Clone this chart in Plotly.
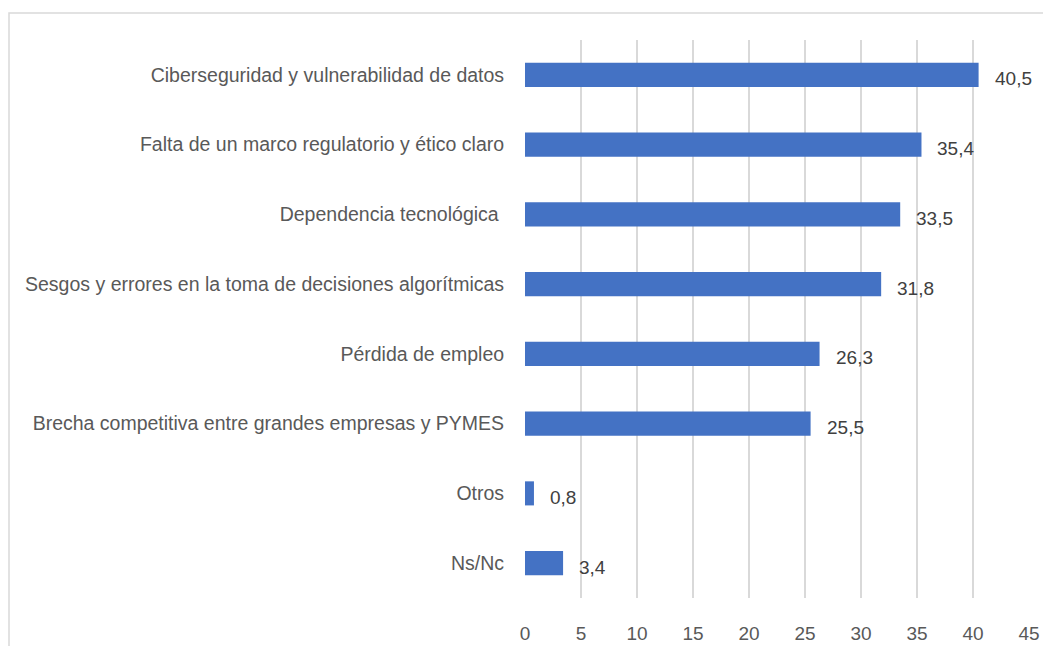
import plotly.graph_objects as go

categories = [
    "Ciberseguridad y vulnerabilidad de datos",
    "Falta de un marco regulatorio y ético claro",
    "Dependencia tecnológica ",
    "Sesgos y errores en la toma de decisiones algorítmicas",
    "Pérdida de empleo",
    "Brecha competitiva entre grandes empresas y PYMES",
    "Otros",
    "Ns/Nc",
]
values = [40.5, 35.4, 33.5, 31.8, 26.3, 25.5, 0.8, 3.4]
x_ticks = [0, 5, 10, 15, 20, 25, 30, 35, 40, 45]

FONT = "Liberation Sans"
BAR = "#4472C4"
GRID = "#d9d9d9"

W, H = 1043, 638
ML, MR, MT, MB = 517, 22, 32, 48
PW, PH = W - ML - MR, H - MT - MB

fig = go.Figure()
fig.add_trace(go.Bar(
    x=values, y=categories, orientation="h",
    marker=dict(color=BAR, line=dict(width=0)),
    width=0.345, hoverinfo="x+y",
))

for v, c in zip(values, categories):
    fig.add_annotation(
        x=v, y=c, text=f"{v:.1f}".replace(".", ","),
        xanchor="left", yanchor="middle", xshift=14, yshift=-4,
        showarrow=False, font=dict(family=FONT, size=19, color="#404040"),
    )

fig.update_layout(
    width=W, height=H,
    margin=dict(l=ML, r=MR, t=MT, b=MB),
    paper_bgcolor="white", plot_bgcolor="white",
    showlegend=False,
    font=dict(family=FONT, size=19, color="#595959"),
    shapes=[dict(type="rect", xref="paper", yref="paper",
                 x0=-(ML - 1) / PW, x1=1 + (MR + 20) / PW,
                 y0=-(MB + 20) / PH, y1=1 + (MT - 5) / PH,
                 line=dict(color=GRID, width=1.5), layer="below")],
)
fig.update_xaxes(
    range=[0, 45], tickvals=x_ticks, ticktext=[str(t) for t in x_ticks],
    showgrid=True, gridcolor=GRID, gridwidth=1.5,
    zeroline=False, showline=False, automargin=False,
    ticks="outside", ticklen=18, tickcolor="rgba(0,0,0,0)",
    tickfont=dict(family=FONT, size=19, color="#595959"),
)
fig.update_yaxes(
    categoryorder="array", categoryarray=categories[::-1],
    showgrid=False, zeroline=False, showline=False, automargin=False,
    ticks="outside", ticklen=16, tickcolor="rgba(0,0,0,0)",
    tickfont=dict(family=FONT, size=19.5, color="#595959"),
)

fig.write_html("out.html")
